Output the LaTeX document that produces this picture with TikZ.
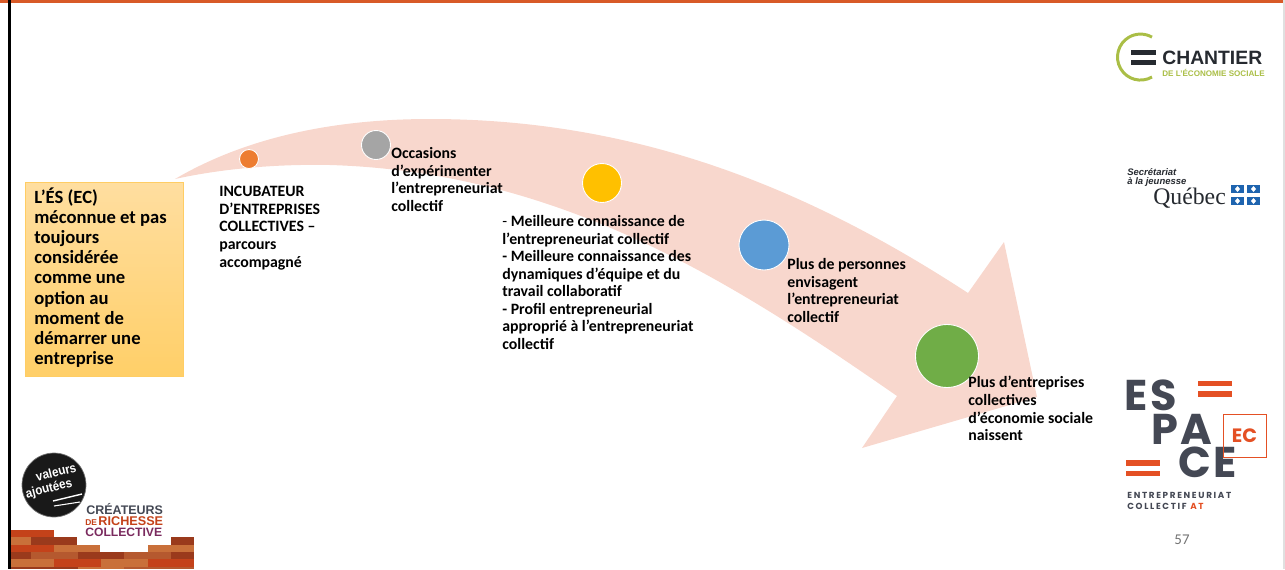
\documentclass[tikz,border=0pt]{standalone}
\usepackage{fontspec}
\setmainfont{Carlito}
\newfontfamily\logofont{Liberation Sans}
\newfontfamily\espacefont{Poppins}
\newfontfamily\espacewide[LetterSpace=6]{Poppins}
\newfontfamily\spacedfont[LetterSpace=19]{Poppins}
\newfontfamily\quebecfont{Liberation Serif}
\usetikzlibrary{positioning}
\definecolor{arrowpink}{RGB}{248,215,205}
\definecolor{boxtop}{RGB}{255,222,160}
\definecolor{boxbottom}{RGB}{255,207,104}
\definecolor{boxline}{RGB}{255,205,100}
\definecolor{dotorange}{RGB}{237,125,49}
\definecolor{dotgray}{RGB}{165,165,165}
\definecolor{dotyellow}{RGB}{255,192,0}
\definecolor{dotblue}{RGB}{91,155,213}
\definecolor{dotgreen}{RGB}{112,173,71}
\definecolor{topline}{RGB}{216,90,40}
\definecolor{brickred}{RGB}{196,66,26}
\definecolor{brickdark}{RGB}{154,58,28}
\definecolor{bricklight}{RGB}{201,112,58}
\definecolor{brickmid}{RGB}{181,89,47}
\definecolor{chantiergreen}{RGB}{170,190,70}
\definecolor{chantierdark}{RGB}{38,42,48}
\definecolor{quebecblue}{RGB}{30,100,175}
\definecolor{espacegray}{RGB}{68,72,84}
\definecolor{espaceorange}{RGB}{228,80,36}
\definecolor{createurpurple}{RGB}{122,42,94}
\tikzstyle{dot} = [circle, draw=white, line width=0.5pt, inner sep=0pt]
\tikzstyle{steptext} = [anchor=north west, inner sep=0pt, align=left, text=black, font=\fontsize{9}{10}\selectfont\bfseries]
\tikzstyle{logotext} = [anchor=west, inner sep=0pt]
\tikzstyle{espaceletters} = [logotext, text=espacegray, font=\espacewide\fontsize{24.5}{24.5}\selectfont\bfseries]
\tikzstyle{brick} = [draw=none]
\tikzstyle{bar} = [draw=none, fill=espaceorange]
\begin{document}
\begin{tikzpicture}[x=0.02cm,y=-0.02cm]
\useasboundingbox (0,0) rectangle (1285,569);
% Slide edges
\fill[topline] (0,0) rectangle (1285,3);
\fill[black] (8,0) rectangle (11,569);
\fill[black!12] (1283,0) rectangle (1285,569);

% Curved arrow
\fill[arrowpink] (175,179) .. controls (250,135) and (340,119) .. (430,119)
  .. controls (640,119) and (810,190) .. (968,293)
  -- (1004,242) -- (1037,397) -- (862,448) -- (897,396)
  .. controls (730,280) and (560,172) .. (330,165)
  .. controls (280,164) and (225,168) .. (175,179) -- cycle;

% Starting box
\node (start) [rectangle, draw=boxline, top color=boxtop, bottom color=boxbottom, line width=0.5pt, minimum width=3.17cm, minimum height=3.88cm, inner sep=0pt] at (104.5,279) {};
\node (starttext) [steptext, font=\fontsize{10.6}{11.5}\selectfont\bfseries] at (34,187) {L’ÉS (EC)\\méconnue et pas\\toujours\\considérée\\comme une\\option au\\moment de\\démarrer une\\entreprise};

% Steps on the arrow
\node (incdot) [dot, fill=dotorange, minimum size=0.38cm] at (249,159) {};
\node (occdot) [dot, fill=dotgray, minimum size=0.58cm] at (376,145) {};
\node (condot) [dot, fill=dotyellow, minimum size=0.78cm] at (602,183) {};
\node (perdot) [dot, fill=dotblue, minimum size=1.0cm] at (764,245) {};
\node (entdot) [dot, fill=dotgreen, minimum size=1.26cm] at (947,356) {};

\node (inctext) [steptext] at (219,186) {INCUBATEUR\\D’ENTREPRISES\\COLLECTIVES –\\parcours\\accompagné};
\node (occtext) [steptext] at (391,147) {Occasions\\d’expérimenter\\l’entrepreneuriat\\collectif};
\node (context) [steptext] at (502,215) {{\mdseries -} Meilleure connaissance de\\l’entrepreneuriat collectif\\- Meilleure connaissance des\\dynamiques d’équipe et du\\travail collaboratif\\- Profil entrepreneurial\\approprié à l’entrepreneuriat\\collectif};
\node (pertext) [steptext] at (787,258) {Plus de personnes\\envisagent\\l’entrepreneuriat\\collectif};
\node (enttext) [steptext] at (968,376) {Plus d’entreprises\\collectives\\d’économie sociale\\naissent};

% Chantier logo
\draw[chantiergreen, line width=1.7pt] (1152,77) arc (60:300:23);
\fill[chantierdark] (1131,50) rectangle (1156,55);
\fill[chantierdark] (1131,60) rectangle (1156,65);
\node (chantier) [logotext, text=chantierdark, font=\logofont\fontsize{11}{11}\selectfont\bfseries] at (1162,58) {CHANTIER};
\node (economie) [logotext, text=chantiergreen, font=\logofont\fontsize{4.6}{4.6}\selectfont\bfseries] at (1162,73) {DE L’ÉCONOMIE SOCIALE};

% Secretariat logo
\node (secretariat) [logotext, text=chantierdark, font=\logofont\fontsize{5.4}{5.4}\selectfont\bfseries\itshape] at (1127,172) {Secrétariat};
\node (jeunesse) [logotext, text=chantierdark, font=\logofont\fontsize{5.4}{5.4}\selectfont\bfseries\itshape] at (1127,182) {à la jeunesse};
\node (quebec) [logotext, text=chantierdark, font=\quebecfont\fontsize{13.5}{13.5}\selectfont] at (1153,198) {Québec};
\foreach \flagx in {1231,1247} {
  \foreach \flagy in {185,197} {
    \fill[quebecblue] (\flagx,\flagy) rectangle ++(13,8);
    \fill[white] (\flagx+6.5,\flagy+1) -- ++(2.5,3) -- ++(-2.5,3) -- ++(-2.5,-3) -- cycle;
  }
}

% Espace logo
\node (es) [espaceletters] at (1124,395) {ES};
\node (pa) [espaceletters] at (1151,429) {PA};
\node (ce) [espaceletters] at (1178,462) {CE};
\fill[bar] (1198,381) rectangle (1232,386);
\fill[bar] (1198,391) rectangle (1232,397);
\fill[bar] (1126,460) rectangle (1160,466);
\fill[bar] (1126,471) rectangle (1160,476);
\node (ecbox) [rectangle, draw=espaceorange, line width=0.5pt, minimum size=0.86cm, inner sep=0pt, text=espaceorange, font=\espacefont\fontsize{11}{11}\selectfont\bfseries] at (1244.5,435.5) {EC};
\node (entrep) [logotext, text=espacegray, font=\spacedfont\fontsize{5}{5}\selectfont\bfseries] at (1127,495) {ENTREPRENEURIAT};
\node (collectif) [logotext, text=espacegray, font=\spacedfont\fontsize{5}{5}\selectfont\bfseries] at (1127,506) {COLLECTIF \textcolor{espaceorange}{AT}};

% Page number
\node (pagenum) [inner sep=0pt, text=black!55, font=\fontsize{8.5}{8.5}\selectfont] at (1182,540) {57};

% Valeurs ajoutees badge
\node (badge) [circle, fill=black!90, draw=black!55, line width=0.4pt, minimum size=1.28cm, inner sep=0pt] at (54,485) {};
\node (valeurs) [inner sep=0pt, rotate=14, xscale=0.9, text=white, font=\logofont\fontsize{7.4}{7.4}\selectfont\bfseries] at (56,472) {valeurs};
\node (ajoutees) [inner sep=0pt, rotate=14, xscale=0.9, text=white, font=\logofont\fontsize{7.4}{7.4}\selectfont\bfseries] at (49,489) {ajoutées};
\draw[white, line width=0.8pt] (53,501) -- (82,494);
\draw[white, line width=0.6pt] (54,506) -- (80,502);

% Createurs logo
\node (createurs) [logotext, text=espacegray, font=\logofont\fontsize{7.1}{7.1}\selectfont\bfseries] at (86,509.5) {CRÉATEURS};
\node (richesse) [logotext, text=brickred, font=\logofont\fontsize{7.2}{7.2}\selectfont\bfseries] at (85,521) {{\fontsize{4.8}{4.8}\selectfont DE\,}RICHESSE};
\node (collective) [logotext, text=createurpurple, font=\logofont\fontsize{6.9}{6.9}\selectfont\bfseries] at (85,532.5) {COLLECTIVE};

% Brick wall
\foreach \xa/\xb/\ya/\yb/\col in {
  11/54/530/537/brickred,
  11/31/537/545/bricklight, 31/77/537/545/brickdark, 171/194/537/545/brickdark,
  11/54/545/552/brickred, 54/100/545/552/bricklight, 148/171/545/552/bricklight, 171/194/545/552/bricklight,
  11/31/552/559/brickdark, 31/78/552/559/brickmid, 78/124/552/559/brickdark, 124/171/552/559/brickmid, 171/194/552/559/brickdark,
  11/54/559/567/bricklight, 54/101/559/567/brickred, 101/148/559/567/bricklight, 148/194/559/567/brickred,
  11/78/567/569/brickdark, 78/124/567/569/bricklight, 124/194/567/569/brickmid} {
  \fill[brick, \col] (\xa,\ya) rectangle (\xb,\yb);
}
\end{tikzpicture}
\end{document}
